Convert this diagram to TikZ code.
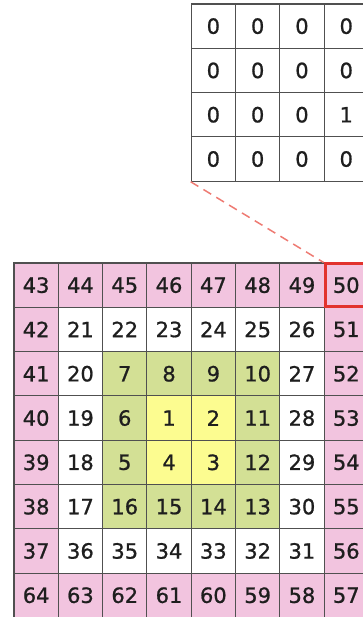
\documentclass[tikz,border=0pt]{standalone}
\usepackage{fontspec}
\setmainfont{DejaVu Sans}
\newfontfamily\spfont{DejaVu Sans}[RawFeature={embolden=0.9}]
\usepackage{xcolor}
\usepackage{tikz}
\usetikzlibrary{positioning}
\definecolor{spInk}{HTML}{1E1E1E}
\definecolor{spLine}{HTML}{505050}
\definecolor{spRing0}{HTML}{F2C4DF}
\definecolor{spRing1}{HTML}{FFFFFF}
\definecolor{spRing2}{HTML}{D3E095}
\definecolor{spRing3}{HTML}{FCFC90}
\definecolor{spMark}{HTML}{E2332E}
\definecolor{spLink}{HTML}{EE7B73}
\tikzset{
  sp diagram/.style={x=1pt, y=-1pt, font=\spfont\fontsize{21}{24}\selectfont, text=spInk},
  sp cell/.style={draw=spLine, line width=1.1pt, minimum size=44.3pt,
    inner sep=0pt, anchor=center},
  sp mark/.style={draw=spMark, line width=3pt},
  sp link/.style={draw=spLink, line width=1.5pt, dash pattern=on 9pt off 6pt}
}

\begin{document}
\begin{tikzpicture}[sp diagram]
\clip (0,0) rectangle (363,617);
% spiral grid, ring colour from distance to the border
\foreach \row [count=\r from 0] in {{43,44,45,46,47,48,49,50},{42,21,22,23,24,25,26,51},
    {41,20,7,8,9,10,27,52},{40,19,6,1,2,11,28,53},{39,18,5,4,3,12,29,54},
    {38,17,16,15,14,13,30,55},{37,36,35,34,33,32,31,56},{64,63,62,61,60,59,58,57}}{
  \foreach \v [count=\c from 0] in \row {
    \pgfmathtruncatemacro{\ring}{min(\r,\c,7-\r,7-\c)}
    \node[sp cell, fill=spRing\ring] (g-\r-\c) at ({14+44.3*(\c+0.5)},{263+44.3*(\r+0.5)}) {\v};
  }
}
% zoomed window
\foreach \row [count=\r from 0] in {{0,0,0,0},{0,0,0,0},{0,0,0,1},{0,0,0,0}}{
  \foreach \v [count=\c from 0] in \row
    \node[sp cell, fill=white] (m-\r-\c) at ({14+44.3*(\c+4.5)},{4+44.3*(\r+0.5)}) {\v};
}
\draw[sp link] (m-3-0.south west) -- (g-0-7.north west);
\draw[sp mark] ([shift={(1.5,1.5)}]g-0-7.north west) rectangle ([shift={(-1.5,-1.5)}]g-0-7.south east);
\end{tikzpicture}
\end{document}
